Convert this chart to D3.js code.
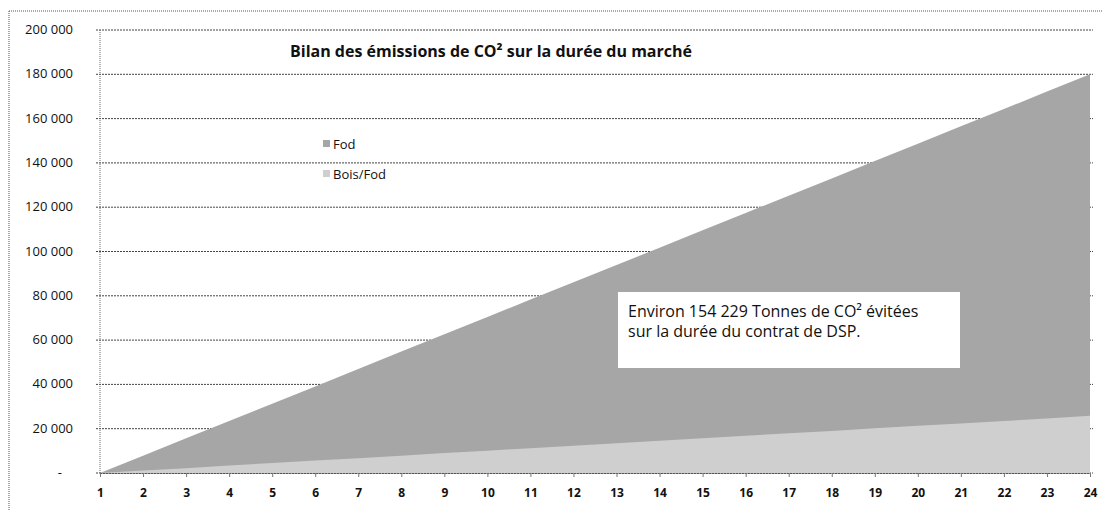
<!DOCTYPE html>
<html>
<head>
<meta charset="utf-8">
<script src="https://cdn.jsdelivr.net/npm/d3@7"></script>
<style>
  body { margin: 0; background: #fff; }
  svg { font-family: "Open Sans", Lato, sans-serif; }
</style>
</head>
<body>
<svg id="chart" width="1103" height="511"></svg>
<script>
const years = [1, 2, 3, 4, 5, 6, 7, 8, 9, 10, 11, 12, 13, 14, 15, 16, 17, 18, 19, 20, 21, 22, 23, 24];
const fod = [0, 7800, 15700, 23500, 31300, 39100, 47000, 54800, 62600, 70400, 78300, 86100,
  93900, 101700, 109600, 117400, 125200, 133000, 140900, 148700, 156500, 164300, 172200, 180000];
const boisFod = [0, 1100, 2200, 3400, 4500, 5600, 6700, 7800, 9000, 10100, 11200, 12300,
  13400, 14600, 15700, 16800, 17900, 19000, 20200, 21300, 22400, 23500, 24600, 25800];
const yTicks = [0, 20000, 40000, 60000, 80000, 100000, 120000, 140000, 160000, 180000, 200000];
const seriesNames = ["Fod", "Bois/Fod"];
const title = "Bilan des émissions de CO² sur la durée du marché";
const note = ["Environ 154 229 Tonnes de CO² évitées", "sur la durée du contrat de DSP."];

let svg = d3.select("#chart");
let margin = { top: 30, left: 100, right: 13, bottom: 38 };
let width = 1103, height = 511;

// outer dotted frame
svg.append("line").attr("x1", 9).attr("x2", width).attr("y1", 11).attr("y2", 11)
  .attr("stroke", "#555").attr("stroke-dasharray", "1,1");
svg.append("line").attr("x1", 9).attr("x2", 9).attr("y1", 11).attr("y2", height)
  .attr("stroke", "#555").attr("stroke-dasharray", "1,1");

let x = d3.scaleLinear().domain([1, 24]).range([margin.left, width - margin.right]);
let y = d3.scaleLinear().domain([0, 200000]).range([height - margin.bottom, margin.top]);

// grid
svg.append("g")
  .selectAll("line")
  .data(yTicks)
  .enter()
  .append("line")
  .attr("x1", margin.left - 4)
  .attr("x2", width - margin.right + 3)
  .attr("y1", (d) => y(d))
  .attr("y2", (d) => y(d))
  .attr("stroke", "#444")
  .attr("stroke-width", 1)
  .attr("stroke-dasharray", "2,1");

// y labels
svg.append("g")
  .selectAll("text")
  .data(yTicks)
  .enter()
  .append("text")
  .attr("x", (d) => (d === 0 ? 62 : 73))
  .attr("y", (d) => y(d) + 4)
  .attr("text-anchor", "end")
  .attr("font-size", 13)
  .attr("fill", "#111")
  .text((d) => (d === 0 ? "-" : d3.format(",")(d).replace(/,/g, " ")));

// areas
let area = (vals) =>
  d3.area()
    .x((d, i) => x(years[i]))
    .y0(y(0))
    .y1((d) => y(d))(vals);

svg.append("path").attr("d", area(fod)).attr("fill", "#a6a6a6");
svg.append("path").attr("d", area(boisFod)).attr("fill", "#cfcfcf");

// axes lines
svg.append("line").attr("x1", x(1)).attr("x2", x(1)).attr("y1", y(200000)).attr("y2", y(0))
  .attr("stroke", "#666").attr("stroke-dasharray", "1,1");
svg.append("g")
  .attr("transform", `translate(0,${y(0)})`)
  .call(d3.axisBottom(x).tickValues(years).tickSize(4).tickFormat(d3.format("d")))
  .call((g) => g.select(".domain").attr("stroke", "#555").attr("stroke-dasharray", "2,1"))
  .call((g) => g.selectAll(".tick line").attr("stroke", "#777"))
  .call((g) => g.selectAll("text")
    .attr("dy", 17)
    .attr("font-size", 12)
    .attr("font-weight", "bold")
    .attr("font-family", "'Open Sans', sans-serif")
    .attr("fill", "#111"));

// title
svg.append("text")
  .attr("x", 290).attr("y", 57)
  .attr("font-size", 16).attr("font-weight", "bold").attr("fill", "#111")
  .text(title);

// legend
let legendColors = ["#a6a6a6", "#cfcfcf"];
let legend = svg.append("g")
  .selectAll("g")
  .data(seriesNames)
  .enter()
  .append("g")
  .attr("transform", (d, i) => `translate(323,${149 + i * 30})`);
legend.append("rect").attr("x", 0).attr("y", -9).attr("width", 7).attr("height", 7)
  .attr("fill", (d, i) => legendColors[i]);
legend.append("text").attr("x", 10).attr("y", 0)
  .attr("font-size", 13).attr("fill", "#111")
  .text((d) => d);

// annotation box
let box = svg.append("g").attr("transform", "translate(618,292)");
box.append("rect").attr("width", 342).attr("height", 76).attr("fill", "#fff");
box.selectAll("text")
  .data(note)
  .enter()
  .append("text")
  .attr("x", 10)
  .attr("y", (d, i) => 25 + i * 20)
  .attr("font-size", 16)
  .attr("fill", "#111")
  .text((d) => d);
</script>
</body>
</html>
